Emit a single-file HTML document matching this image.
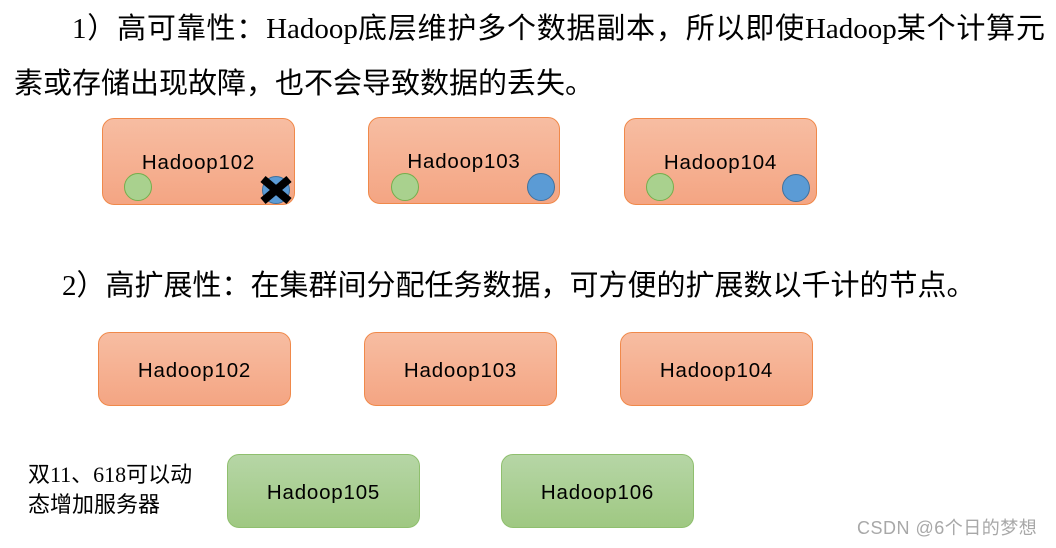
<!DOCTYPE html>
<html>
<head>
<meta charset="utf-8">
<style>
  html, body { margin:0; padding:0; background:#fff; }
  body { width:1056px; height:548px; position:relative; overflow:hidden; }
  .t { position:absolute; white-space:nowrap; color:#000;
       font-family:"Liberation Serif","Noto Sans CJK SC",sans-serif; font-size:29px; line-height:29px; }
  .box { position:absolute; box-sizing:border-box; border-radius:12px;
         font-family:"Liberation Sans",sans-serif; font-size:20.5px; letter-spacing:0.8px; color:#000;
         display:flex; align-items:center; justify-content:center; }
  .box span { position:relative; top:2px; }
  .or { background:linear-gradient(#f7bda2,#f4a583); border:1px solid #f0894a; }
  .gr { background:linear-gradient(#b6d6a6,#9fc882); border:1px solid #8fbf6e; }
  .c { position:absolute; width:28px; height:28px; border-radius:50%; box-sizing:border-box; }
  .cg { background:#a9d18e; border:1px solid #74ae4c; }
  .cb { background:#5b9bd5; border:1px solid #41719c; }
  .lat { font-family:"Liberation Serif",serif; letter-spacing:0; }
</style>
</head>
<body>
<div class="t" style="left:72px;top:15px;letter-spacing:0.8px;">1）高可靠性：<span class="lat">Hadoop</span>底层维护多个数据副本，所以即使<span class="lat">Hadoop</span>某个计算元</div>
<div class="t" style="left:14px;top:70px;">素或存储出现故障，也不会导致数据的丢失。</div>

<div class="box or" style="left:102px;top:118px;width:193px;height:87px;"><span style="top:1px;">Hadoop102</span></div>
<div class="box or" style="left:368px;top:117px;width:192px;height:87px;"><span style="top:1px;">Hadoop103</span></div>
<div class="box or" style="left:624px;top:118px;width:193px;height:87px;"><span style="top:1px;">Hadoop104</span></div>

<div class="c cg" style="left:124px;top:173px;"></div>
<div class="c cb" style="left:262px;top:176px;"></div>
<svg style="position:absolute;left:258px;top:175px;" width="36" height="30" viewBox="0 0 36 30">
  <line x1="5" y1="4" x2="31" y2="26" stroke="#000" stroke-width="8"/>
  <line x1="31" y1="4" x2="5" y2="26" stroke="#000" stroke-width="8"/>
</svg>

<div class="c cg" style="left:391px;top:173px;"></div>
<div class="c cb" style="left:527px;top:173px;"></div>
<div class="c cg" style="left:646px;top:173px;"></div>
<div class="c cb" style="left:782px;top:174px;"></div>

<div class="t" style="left:62px;top:272px;">2）高扩展性：在集群间分配任务数据，可方便的扩展数以千计的节点。</div>

<div class="box or" style="left:98px;top:332px;width:193px;height:74px;"><span>Hadoop102</span></div>
<div class="box or" style="left:364px;top:332px;width:193px;height:74px;"><span>Hadoop103</span></div>
<div class="box or" style="left:620px;top:332px;width:193px;height:74px;"><span>Hadoop104</span></div>

<div class="t" style="left:28px;top:460px;font-size:22px;line-height:30px;">双11、618可以动<br>态增加服务器</div>

<div class="box gr" style="left:227px;top:454px;width:193px;height:74px;"><span>Hadoop105</span></div>
<div class="box gr" style="left:501px;top:454px;width:193px;height:74px;"><span>Hadoop106</span></div>

<div style="position:absolute;left:857px;top:517px;font-family:'Liberation Sans','Noto Sans CJK SC',sans-serif;font-size:18px;line-height:22px;color:#a8a8a8;white-space:nowrap;letter-spacing:0.5px;">CSDN @6个日的梦想</div>
</body>
</html>
